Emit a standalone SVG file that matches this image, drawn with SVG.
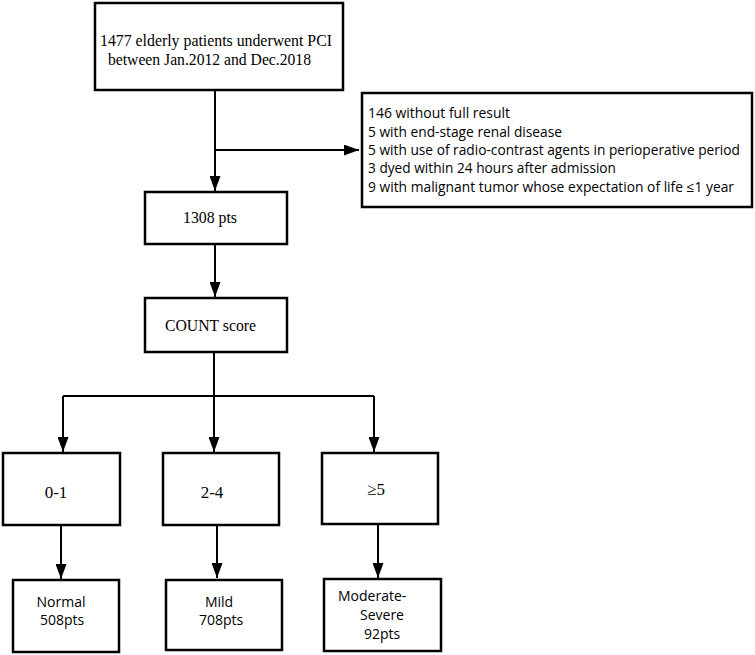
<svg xmlns="http://www.w3.org/2000/svg" width="755" height="655" viewBox="0 0 755 655">
<style>
.box{fill:#fff;stroke:#000;stroke-width:2.5}
.ln{fill:none;stroke:#000;stroke-width:2}
.tm{font-family:"Liberation Serif","Times New Roman",serif;font-size:16px;fill:#000}
.tm17{font-family:"Liberation Serif","Times New Roman",serif;font-size:17px;fill:#000}
.sn{font-family:"Open Sans","Liberation Sans",sans-serif;font-size:14px;fill:#000}
</style>
<defs>
<marker id="ahd" viewBox="0 0 15 11" refX="15" refY="5.5" markerWidth="15" markerHeight="11" markerUnits="userSpaceOnUse" orient="auto">
<path d="M0,0 L15,5.5 L0,11 Z" fill="#000"/>
</marker>
</defs>
<rect width="755" height="655" fill="#fff"/>
<g id="connectors">
<line class="ln" x1="215" y1="90" x2="215" y2="191" marker-end="url(#ahd)"/>
<line class="ln" x1="215" y1="150" x2="359" y2="150" marker-end="url(#ahd)"/>
<line class="ln" x1="215" y1="244" x2="215" y2="297" marker-end="url(#ahd)"/>
<line class="ln" x1="214" y1="352" x2="214" y2="396"/>
<line class="ln" x1="63" y1="396" x2="374" y2="396"/>
<line class="ln" x1="63" y1="396" x2="63" y2="452" marker-end="url(#ahd)"/>
<line class="ln" x1="214" y1="396" x2="214" y2="452" marker-end="url(#ahd)"/>
<line class="ln" x1="374" y1="396" x2="374" y2="452" marker-end="url(#ahd)"/>
<line class="ln" x1="61" y1="525" x2="61" y2="579" marker-end="url(#ahd)"/>
<line class="ln" x1="217" y1="525" x2="217" y2="578" marker-end="url(#ahd)"/>
<line class="ln" x1="378" y1="524" x2="378" y2="578" marker-end="url(#ahd)"/>
</g>
<g id="n-start">
<rect class="box" x="95" y="3" width="248" height="87"/>
<text class="tm" x="100" y="46" textLength="232" lengthAdjust="spacingAndGlyphs">1477 elderly patients underwent PCI</text>
<text class="tm" x="108" y="65" textLength="203" lengthAdjust="spacingAndGlyphs">between Jan.2012 and Dec.2018</text>
</g>
<g id="n-excl">
<rect class="box" x="362" y="93" width="390" height="114"/>
<text class="sn" x="368" y="118" textLength="142" lengthAdjust="spacingAndGlyphs">146 without full result</text>
<text class="sn" x="368" y="137" textLength="194" lengthAdjust="spacingAndGlyphs">5 with end-stage renal disease</text>
<text class="sn" x="368" y="155" textLength="372" lengthAdjust="spacingAndGlyphs">5 with use of radio-contrast agents in perioperative period</text>
<text class="sn" x="368" y="173" textLength="248" lengthAdjust="spacingAndGlyphs">3 dyed within 24 hours after admission</text>
<text class="sn" x="368" y="192" textLength="366" lengthAdjust="spacingAndGlyphs">9 with malignant tumor whose expectation of life ≤1 year</text>
</g>
<g id="n-1308">
<rect class="box" x="145" y="192" width="142" height="52"/>
<text class="tm" x="183" y="223" textLength="54" lengthAdjust="spacingAndGlyphs">1308 pts</text>
</g>
<g id="n-count">
<rect class="box" x="145" y="298" width="142" height="54"/>
<text class="tm" x="165" y="331" textLength="91" lengthAdjust="spacingAndGlyphs">COUNT score</text>
</g>
<g id="n-01">
<rect class="box" x="3" y="453" width="117" height="72"/>
<text class="tm17" x="56" y="498" text-anchor="middle">0-1</text>
</g>
<g id="n-24">
<rect class="box" x="163" y="453" width="116" height="72"/>
<text class="tm17" x="212" y="498" text-anchor="middle">2-4</text>
</g>
<g id="n-5">
<rect class="box" x="322" y="453" width="116" height="71"/>
<text class="tm17" x="376" y="495" text-anchor="middle">≥5</text>
</g>
<g id="n-normal">
<rect class="box" x="13" y="580" width="106" height="72"/>
<text class="sn" x="61" y="607" text-anchor="middle">Normal</text>
<text class="sn" x="62" y="625" text-anchor="middle">508pts</text>
</g>
<g id="n-mild">
<rect class="box" x="166" y="580" width="116" height="70"/>
<text class="sn" x="219" y="607" text-anchor="middle">Mild</text>
<text class="sn" x="221" y="625" text-anchor="middle">708pts</text>
</g>
<g id="n-mod">
<rect class="box" x="324" y="579" width="117" height="72"/>
<text class="sn" x="338" y="601">Moderate-</text>
<text class="sn" x="360" y="620">Severe</text>
<text class="sn" x="364" y="639">92pts</text>
</g>
</svg>
